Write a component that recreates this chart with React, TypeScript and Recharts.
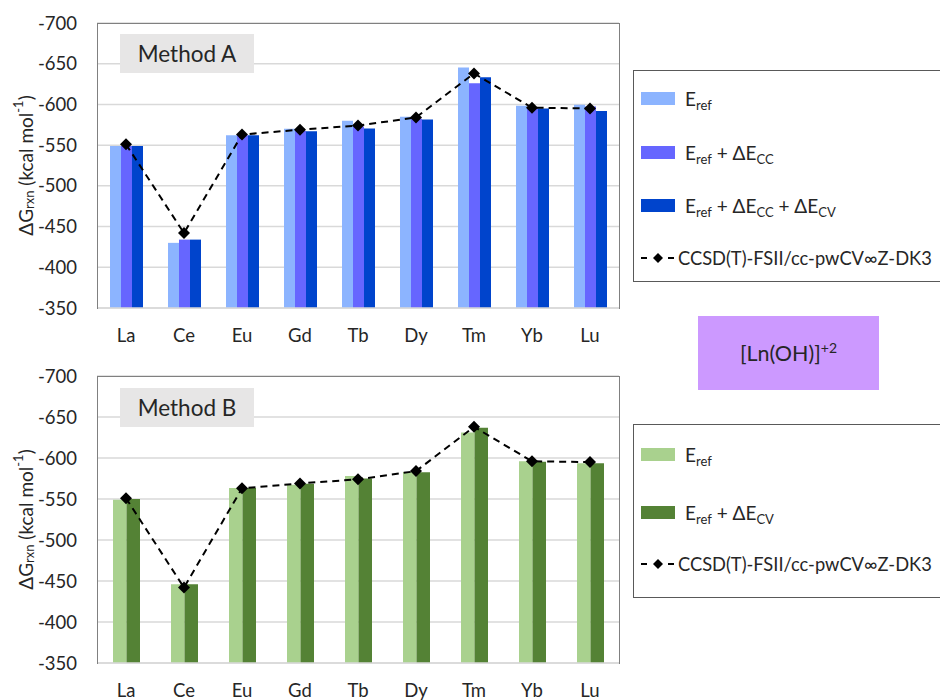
import React from 'react';
import { ComposedChart, Bar, Line, XAxis, YAxis, CartesianGrid, Legend } from 'recharts';

const elements = ['La', 'Ce', 'Eu', 'Gd', 'Tb', 'Dy', 'Tm', 'Yb', 'Lu'];
const yTicks = [-700, -650, -600, -550, -500, -450, -400, -350];

// Method A
const aEref = [-549, -430, -562, -570, -580, -585, -645.5, -598.5, -599.5];
const aEcc = [-549, -434, -562, -567.5, -573, -582.5, -626, -596.5, -597.5];
const aEcv = [-549, -434, -562, -567, -570.5, -581.5, -633.5, -595, -592];
// Reference CCSD(T)
const ccsdRef = [-551, -442, -563, -569, -574, -584, -638, -596, -595];
// Method B
const bEref = [-549, -446, -563.5, -567.5, -578, -583, -631, -596, -593.5];
const bEcv = [-550, -446, -563.5, -568.5, -575, -582.5, -637, -595.5, -593.5];

const dataA = elements.map((el, i) => ({ el, eref: aEref[i], ecc: aEcc[i], ecv: aEcv[i], ccsd: ccsdRef[i] }));
const dataB = elements.map((el, i) => ({ el, eref: bEref[i], ecv: bEcv[i], ccsd: ccsdRef[i] }));

const FONT = 'Lato, "Open Sans", "DejaVu Sans", sans-serif';
const TXT = '#262626';
const C = {
  blueLight: '#8CB4FF',
  blueMid: '#6666FF',
  blueDark: '#0044CC',
  greenLight: '#A9D18E',
  greenDark: '#548235',
  grid: '#D9D9D9',
  border: '#808080',
};

const Sub = ({ children }: { children: React.ReactNode }) => (
  <span style={{ fontSize: 13, position: 'relative', top: 4, lineHeight: 0 }}>{children}</span>
);

const Diamond = (props: any) => {
  const { cx, cy } = props;
  if (cx == null || cy == null) return null;
  const r = 6;
  return <path d={`M${cx},${cy - r}L${cx + r},${cy}L${cx},${cy + r}L${cx - r},${cy}Z`} fill="#000" stroke="none" />;
};

const YLabel = (props: any) => {
  const vb = props.viewBox || {};
  const x = (vb.x || 0) + 25;
  const y = (vb.y || 0) + (vb.height || 0) / 2;
  return (
    <text
      x={x}
      y={y}
      transform={`rotate(-90, ${x}, ${y})`}
      textAnchor="middle"
      dominantBaseline="central"
      fontFamily={FONT}
      fontSize={19}
      fill={TXT}
    >
      ΔG
      <tspan fontSize={13} dy={4}>rxn</tspan>
      <tspan dy={-4}> (kcal mol</tspan>
      <tspan fontSize={13} dy={-7}>-1</tspan>
      <tspan dy={7}>)</tspan>
    </text>
  );
};

const LineIcon = () => (
  <svg width={36} height={12} style={{ display: 'block' }}>
    <line x1={0} y1={6} x2={6} y2={6} stroke="#000" strokeWidth={2} />
    <path d="M17,1L22,6L17,11L12,6Z" fill="#000" />
    <line x1={27} y1={6} x2={33} y2={6} stroke="#000" strokeWidth={2} />
  </svg>
);

const makeLegend = (
  order: string[],
  labels: Record<string, React.ReactNode>,
  colors: Record<string, string>,
  tops: number[]
) => () => (
  <div style={{ position: 'relative', width: '100%', height: '100%', fontFamily: FONT, fontSize: 19, color: TXT }}>
    {order.map((key, i) => {
      const isLine = key === 'ccsd';
      return (
        <div
          key={key}
          style={{
            position: 'absolute',
            left: 7,
            top: tops[i] - 12,
            height: 24,
            display: 'flex',
            alignItems: 'center',
            whiteSpace: 'nowrap',
          }}
        >
          {isLine ? (
            <>
              <LineIcon />
              <span style={{ marginLeft: 1, fontSize: 18.3 }}>{labels[key]}</span>
            </>
          ) : (
            <>
              <div style={{ width: 34, height: 13, background: colors[key] }} />
              <span style={{ marginLeft: 10 }}>{labels[key]}</span>
            </>
          )}
        </div>
      );
    })}
  </div>
);

const labelsA: Record<string, React.ReactNode> = {
  eref: <>E<Sub>ref</Sub></>,
  ecc: <>E<Sub>ref</Sub> + ΔE<Sub>CC</Sub></>,
  ecv: <>E<Sub>ref</Sub> + ΔE<Sub>CC</Sub> + ΔE<Sub>CV</Sub></>,
  ccsd: 'CCSD(T)-FSII/cc-pwCV∞Z-DK3',
};
const labelsB: Record<string, React.ReactNode> = {
  eref: <>E<Sub>ref</Sub></>,
  ecv: <>E<Sub>ref</Sub> + ΔE<Sub>CV</Sub></>,
  ccsd: 'CCSD(T)-FSII/cc-pwCV∞Z-DK3',
};
const colorsA = { eref: C.blueLight, ecc: C.blueMid, ecv: C.blueDark, ccsd: '#000' };
const colorsB = { eref: C.greenLight, ecv: C.greenDark, ccsd: '#000' };

const tickStyle = { fontFamily: FONT, fontSize: 18.5, fill: TXT };

const legendBoxStyle = (top: number, height: number): React.CSSProperties => ({
  position: 'absolute',
  left: 633,
  top,
  width: 330,
  height,
  border: '1px solid #595959',
  boxSizing: 'border-box',
  background: '#fff',
  margin: 0,
});

const boxStyle = (top: number): React.CSSProperties => ({
  position: 'absolute',
  left: 120,
  top,
  width: 134,
  height: 39,
  background: '#E7E6E6',
  display: 'flex',
  alignItems: 'center',
  justifyContent: 'center',
  fontSize: 22.5,
  color: TXT,
});

const borderStyle = (top: number, height: number): React.CSSProperties => ({
  position: 'absolute',
  left: 97,
  top,
  width: 523,
  height,
  borderLeft: `1.5px solid ${C.border}`,
  borderTop: `1.5px solid ${C.border}`,
  borderRight: `1.5px solid ${C.border}`,
  boxSizing: 'border-box',
  pointerEvents: 'none',
});

export default function App() {
  return (
    <div
      style={{
        position: 'absolute',
        left: 0,
        top: 0,
        width: 940,
        height: 700,
        overflow: 'hidden',
        background: '#fff',
        fontFamily: FONT,
      }}
    >
      {/* Top chart: Method A */}
      <div style={{ position: 'absolute', left: 0, top: 0 }}>
        <ComposedChart
          width={940}
          height={350}
          data={dataA}
          margin={{ top: 23, right: 321, bottom: 12, left: 0 }}
          barSize={11}
          barGap={0}
        >
          <CartesianGrid vertical={false} stroke={C.grid} strokeWidth={1.5} />
          <XAxis
            dataKey="el"
            interval={0}
            height={30}
            tickLine={false}
            tickSize={0}
            tickMargin={21}
            axisLine={{ stroke: C.grid, strokeWidth: 1.5 }}
            tick={tickStyle}
          />
          <YAxis
            type="number"
            domain={[-700, -350]}
            ticks={yTicks}
            reversed
            width={97}
            tickLine={false}
            tickSize={0}
            tickMargin={20}
            axisLine={false}
            tick={tickStyle}
            label={{ content: YLabel }}
          />
          <Bar dataKey="eref" fill={C.blueLight} isAnimationActive={false} />
          <Bar dataKey="ecc" fill={C.blueMid} isAnimationActive={false} />
          <Bar dataKey="ecv" fill={C.blueDark} isAnimationActive={false} />
          <Line
            dataKey="ccsd"
            type="linear"
            stroke="#000"
            strokeWidth={2}
            strokeDasharray="7 5"
            dot={(p: any) => <Diamond key={`a-${p.index}`} {...p} />}
            activeDot={false}
            isAnimationActive={false}
          />
          <Legend
            layout="vertical"
            align="center"
            verticalAlign="middle"
            wrapperStyle={legendBoxStyle(70, 212)}
            content={makeLegend(['eref', 'ecc', 'ecv', 'ccsd'], labelsA, colorsA, [27, 81, 134, 187])}
          />
        </ComposedChart>
      </div>

      {/* Bottom chart: Method B */}
      <div style={{ position: 'absolute', left: 0, top: 350 }}>
        <ComposedChart
          width={940}
          height={350}
          data={dataB}
          margin={{ top: 26, right: 321, bottom: 7, left: 0 }}
          barSize={13.5}
          barGap={0}
        >
          <CartesianGrid vertical={false} stroke={C.grid} strokeWidth={1.5} />
          <XAxis
            dataKey="el"
            interval={0}
            height={30}
            tickLine={false}
            tickSize={0}
            tickMargin={21}
            axisLine={{ stroke: C.grid, strokeWidth: 1.5 }}
            tick={tickStyle}
          />
          <YAxis
            type="number"
            domain={[-700, -350]}
            ticks={yTicks}
            reversed
            width={97}
            tickLine={false}
            tickSize={0}
            tickMargin={20}
            axisLine={false}
            tick={tickStyle}
            label={{ content: YLabel }}
          />
          <Bar dataKey="eref" fill={C.greenLight} isAnimationActive={false} />
          <Bar dataKey="ecv" fill={C.greenDark} isAnimationActive={false} />
          <Line
            dataKey="ccsd"
            type="linear"
            stroke="#000"
            strokeWidth={2}
            strokeDasharray="7 5"
            dot={(p: any) => <Diamond key={`b-${p.index}`} {...p} />}
            activeDot={false}
            isAnimationActive={false}
          />
          <Legend
            layout="vertical"
            align="center"
            verticalAlign="middle"
            wrapperStyle={legendBoxStyle(74, 174)}
            content={makeLegend(['eref', 'ecv', 'ccsd'], labelsB, colorsB, [29, 87, 139])}
          />
        </ComposedChart>
      </div>

      {/* Plot area borders */}
      <div style={borderStyle(23, 286)} />
      <div style={borderStyle(376, 288)} />

      {/* Method labels */}
      <div style={boxStyle(34)}>Method A</div>
      <div style={boxStyle(388)}>Method B</div>

      {/* Species label */}
      <div
        style={{
          position: 'absolute',
          left: 698,
          top: 316,
          width: 181,
          height: 74,
          background: '#CC99FF',
          display: 'flex',
          alignItems: 'center',
          justifyContent: 'center',
          fontSize: 21.5,
          color: TXT,
        }}
      >
        <span>
          [Ln(OH)]<span style={{ fontSize: 14, position: 'relative', top: -8, lineHeight: 0 }}>+2</span>
        </span>
      </div>
    </div>
  );
}
